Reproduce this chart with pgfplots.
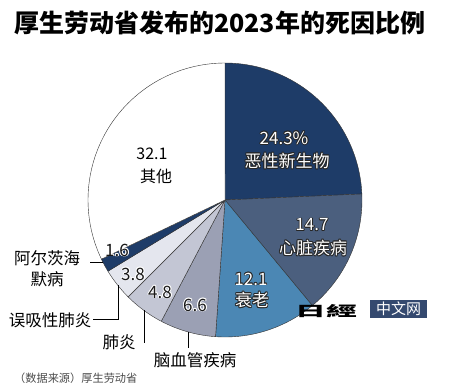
\documentclass[border=0pt]{standalone}
\usepackage{fontspec}
\setmainfont{Noto Sans CJK SC}
\usepackage{pgfplots}
\usepackage{pgfplotstable}
\pgfplotsset{compat=1.18}

\definecolor{cA}{HTML}{1E3C68}
\definecolor{cB}{HTML}{4B5F7E}
\definecolor{cC}{HTML}{4B87B4}
\definecolor{cD}{HTML}{9BA0B4}
\definecolor{cE}{HTML}{C3C6D4}
\definecolor{cF}{HTML}{E4E6EE}
\definecolor{edgecol}{HTML}{333333}
\definecolor{wmnavy}{HTML}{34496F}

\pgfplotstableread{
value color
24.3 cA
14.7 cB
12.1 cC
6.6 cD
4.8 cE
3.8 cF
1.6 cA
32.1 white
}\piedata

\newcommand{\fs}[1]{\fontsize{#1bp}{#1bp}\selectfont}
\newcommand{\halo}[6]{% x, y, fg, bg, size, text
  \foreach \dx/\dy in {0.9/0,-0.9/0,0/0.9,0/-0.9,0.64/0.64,-0.64/0.64,0.64/-0.64,-0.64/-0.64}{
    \node[text=#4, inner sep=0pt, font=\fs{#5}] at (#1+\dx,#2+\dy) {#6};}
  \node[text=#3, inner sep=0pt, font=\fs{#5}] at (#1,#2) {#6};}

\begin{document}
\begin{tikzpicture}
\useasboundingbox (0,0) rectangle (450bp,388bp);
\begin{axis}[at={(0,0)}, anchor=south west, scale only axis,
  width=450bp, height=388bp, xmin=0, xmax=450, ymin=0, ymax=388,
  y dir=reverse, hide axis, clip=false]
\def\cum{0}
\pgfplotsforeachungrouped \i in {0,...,7}{%
  \pgfplotstablegetelem{\i}{value}\of\piedata \let\v\pgfplotsretval
  \pgfplotstablegetelem{\i}{color}\of\piedata \let\col\pgfplotsretval
  \pgfmathsetmacro\a{\cum*3.6}%
  \pgfmathsetmacro\cumnew{\cum+\v}\let\cum\cumnew
  \pgfmathsetmacro\b{\cum*3.6}%
  \edef\doplot{\noexpand\addplot[fill=\col, draw=edgecol, line width=0.4pt, domain=\a:\b, samples=60] ({225+137*sin(x)},{200-137*cos(x)}) -- (225,200) -- cycle;}%
  \doplot
}
\end{axis}
\begin{scope}[x=1bp, y=-1bp, shift={(0,388bp)}]
  % title
  \node[anchor=west, inner sep=0pt, font=\fs{25}\bfseries] at (14,23) {厚生劳动省发布的2023年的死因比例};
  % inside labels
  \halo{284}{138}{white}{black!85}{17}{24.3\%}
  \halo{287}{161}{white}{black!85}{17}{恶性新生物}
  \halo{312}{225}{white}{black!85}{17}{14.7}
  \halo{313}{248}{white}{black!85}{17}{心脏疾病}
  \halo{251}{279}{white}{black!85}{17}{12.1}
  \halo{252}{300}{white}{black!85}{17}{衰老}
  \halo{195}{305}{black!90}{white}{17}{6.6}
  \halo{160}{292}{black!90}{white}{17}{4.8}
  \halo{133}{274}{black!90}{white}{17}{3.8}
  \halo{117}{250}{black!90}{white}{17}{1.6}
  \node[inner sep=0pt, font=\fs{16}] at (152,154) {32.1};
  \node[inner sep=0pt, font=\fs{16}] at (156,176) {其他};
  % outside labels
  \node[inner sep=0pt, font=\fs{16.5}] at (47,258) {阿尔茨海};
  \node[inner sep=0pt, font=\fs{16.5}] at (47,279) {默病};
  \node[inner sep=0pt, font=\fs{16.5}] at (50,320) {误吸性肺炎};
  \node[inner sep=0pt, font=\fs{16.5}] at (119,342) {肺炎};
  \node[inner sep=0pt, font=\fs{16.5}] at (195,360) {脑血管疾病};
  \node[anchor=west, inner sep=0pt, font=\fs{11.2}, text=black!70] at (14,378) {（数据来源）厚生劳动省};
  % leaders
  \draw[line width=0.6pt] (90,262) -- (103,262);
  \draw[line width=0.6pt] (93,319) -- (118,319) -- (118,285.5);
  \draw[line width=0.6pt] (144,310.5) -- (144,343);
  \draw[line width=0.6pt] (188,332) -- (188,348);
  % watermark
  \fill[wmnavy] (370,300) rectangle (427,318);
  \node[inner sep=0pt, text=white, font=\fs{15}] at (398.5,309) {中文网};
  \node[inner sep=0pt, xscale=2.2, font=\fs{14}\bfseries] at (326,311) {日經};
\end{scope}
\end{tikzpicture}
\end{document}
